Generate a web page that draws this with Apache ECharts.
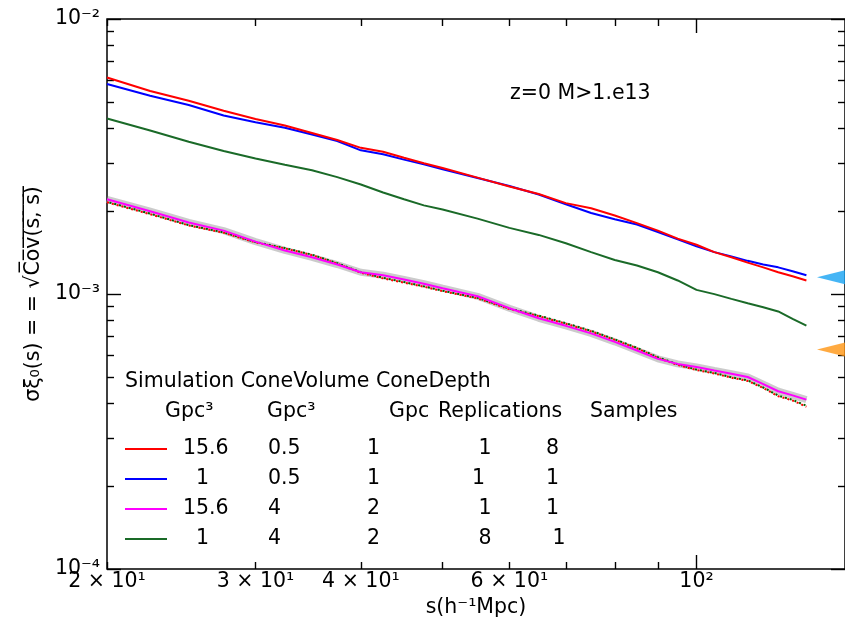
<!DOCTYPE html>
<html><head><meta charset="utf-8">
<script src="https://cdn.jsdelivr.net/npm/echarts@6/dist/echarts.min.js"></script>
<style>html,body{margin:0;padding:0;background:#fff}#c{width:845px;height:630px}</style>
</head><body><div id="c"></div>
<script>
// ---- data ----
const sVals = [20,22.5,25,27.5,30,32.5,35,37.5,40,42.5,45,47.5,50,55,60,65,70,75,80,85,90,95,100,105,110,115,120,125,130,135];
const redVals = [6.13e-3,5.47e-3,5.04e-3,4.64e-3,4.33e-3,4.10e-3,3.85e-3,3.63e-3,3.40e-3,3.29e-3,3.13e-3,2.99e-3,2.87e-3,2.65e-3,2.46e-3,2.31e-3,2.14e-3,2.05e-3,1.93e-3,1.81e-3,1.70e-3,1.59e-3,1.51e-3,1.42e-3,1.36e-3,1.30e-3,1.25e-3,1.20e-3,1.16e-3,1.12e-3];
const blueVals = [5.80e-3,5.26e-3,4.87e-3,4.46e-3,4.21e-3,4.02e-3,3.80e-3,3.60e-3,3.33e-3,3.22e-3,3.08e-3,2.96e-3,2.84e-3,2.64e-3,2.47e-3,2.30e-3,2.12e-3,1.97e-3,1.87e-3,1.79e-3,1.68e-3,1.58e-3,1.49e-3,1.42e-3,1.37e-3,1.32e-3,1.28e-3,1.25e-3,1.21e-3,1.17e-3];
const greenVals = [4.35e-3,3.93e-3,3.58e-3,3.31e-3,3.11e-3,2.95e-3,2.82e-3,2.66e-3,2.50e-3,2.34e-3,2.21e-3,2.10e-3,2.03e-3,1.88e-3,1.74e-3,1.64e-3,1.53e-3,1.42e-3,1.33e-3,1.27e-3,1.20e-3,1.12e-3,1.035e-3,9.99e-4,9.60e-4,9.25e-4,8.95e-4,8.64e-4,8.12e-4,7.67e-4];
const magentaVals = [2.21e-3,2.00e-3,1.82e-3,1.70e-3,1.55e-3,1.44e-3,1.36e-3,1.28e-3,1.20e-3,1.17e-3,1.13e-3,1.09e-3,1.05e-3,9.81e-4,8.88e-4,8.16e-4,7.66e-4,7.19e-4,6.70e-4,6.23e-4,5.81e-4,5.57e-4,5.43e-4,5.27e-4,5.13e-4,4.99e-4,4.70e-4,4.43e-4,4.28e-4,4.13e-4];
const dottedRedVals = [2.155e-3,1.95e-3,1.775e-3,1.67e-3,1.54e-3,1.465e-3,1.385e-3,1.29e-3,1.195e-3,1.14e-3,1.10e-3,1.063e-3,1.024e-3,9.64e-4,8.81e-4,8.30e-4,7.79e-4,7.31e-4,6.81e-4,6.34e-4,5.86e-4,5.52e-4,5.29e-4,5.14e-4,4.96e-4,4.83e-4,4.55e-4,4.25e-4,4.10e-4,3.89e-4];
const dottedGreenVals = [2.165e-3,1.96e-3,1.78e-3,1.675e-3,1.545e-3,1.47e-3,1.39e-3,1.295e-3,1.20e-3,1.145e-3,1.105e-3,1.066e-3,1.028e-3,9.68e-4,8.85e-4,8.35e-4,7.83e-4,7.35e-4,6.84e-4,6.37e-4,5.89e-4,5.55e-4,5.31e-4,5.16e-4,4.98e-4,4.85e-4,4.57e-4,4.27e-4,4.12e-4,3.92e-4];
const triangleS = [150, 150];
const triangleVals = [1.15e-3, 6.28e-4];
const triangleColors = ['#16a3f2', '#ff9512'];

const xLabelVals = [20, 30, 40, 60, 100];
const xLabelTexts = ['2 × 10¹', '3 × 10¹', '4 × 10¹', '6 × 10¹', '10²'];
const xMajorTicks = [100];
const xMinorTicks = [20, 30, 40, 50, 60, 70, 80, 90];
const yLabelVals = [1e-4, 1e-3, 1e-2];
const yLabelTexts = ['10⁻⁴', '10⁻³', '10⁻²'];
const yMajorTicks = [1e-4, 1e-3, 1e-2];
const yMinorTicks = [2e-4,3e-4,4e-4,5e-4,6e-4,7e-4,8e-4,9e-4,2e-3,3e-3,4e-3,5e-3,6e-3,7e-3,8e-3,9e-3];

const legendNames = ['red', 'blue', 'magenta', 'green'];
const legendCols = {
  red:     ['15.6', '0.5', '1', ' 1', '8'],
  blue:    ['  1',  '0.5', '1', '1',  '1'],
  magenta: ['15.6', '4',   '2', ' 1', '1'],
  green:   ['  1',  '4',   '2', ' 8', ' 1']
};
const headerLine1 = 'Simulation ConeVolume ConeDepth';
const headerLine2 = [['Gpc³', 165], ['Gpc³', 267], ['Gpc', 389], ['Replications', 438], ['Samples', 590]];
const annotation = 'z=0 M>1.e13';

// ---- chart ----
const FF = 'DejaVu Sans';
const FS = 20.5;
function pairs(ys) { return sVals.map((s, i) => [s, ys[i]]); }
function nearest(arr, v) {
  let b = 0, bd = Infinity;
  arr.forEach((a, i) => { const d = Math.abs(Math.log10(a) - Math.log10(v)); if (d < bd) { bd = d; b = i; } });
  return b;
}
const tickStyle = { color: '#000', width: 1.4 };
function xAx(pos, ticks, len, labels) {
  return {
    type: 'log', logBase: 10, min: 20, max: 150, position: pos, gridIndex: 0,
    splitLine: { show: false }, axisLine: { show: false },
    axisTick: { show: true, inside: true, length: len, customValues: ticks, lineStyle: tickStyle },
    axisLabel: labels ? {
      show: true, customValues: xLabelVals, margin: 2, color: '#000', fontFamily: FF, fontSize: FS,
      showMinLabel: true, showMaxLabel: true, hideOverlap: false,
      formatter: v => xLabelTexts[nearest(xLabelVals, v)]
    } : { show: false },
    name: labels ? 's(h⁻¹Mpc)' : '', nameLocation: 'middle', nameGap: 20,
    nameTextStyle: { color: '#000', fontFamily: FF, fontSize: FS }
  };
}
function yAx(pos, ticks, len, labels) {
  return {
    type: 'log', logBase: 10, min: 1e-4, max: 1e-2, position: pos, gridIndex: 0,
    splitLine: { show: false }, axisLine: { show: false },
    axisTick: { show: true, inside: true, length: len, customValues: ticks, lineStyle: tickStyle },
    axisLabel: labels ? {
      show: true, customValues: yLabelVals, margin: 7, color: '#000', fontFamily: FF, fontSize: FS,
      showMinLabel: true, showMaxLabel: true, hideOverlap: false,
      formatter: v => yLabelTexts[nearest(yLabelVals, v)]
    } : { show: false },
    name: labels ? 'σξ₀(s) = = √C̅o̅v̅(̅s̅,̅ ̅s̅)̅' : '', nameLocation: 'middle', nameGap: 56, nameRotate: 90,
    nameTextStyle: { color: '#000', fontFamily: FF, fontSize: FS }
  };
}

function lineSeries(name, ys, color, width, type, z) {
  return {
    name: name, type: 'line', data: pairs(ys), xAxisIndex: 0, yAxisIndex: 0,
    showSymbol: false, symbol: 'none', smooth: false, z: z, silent: true,
    lineStyle: { color: color, width: width, type: type || 'solid', cap: 'butt' },
    itemStyle: { color: color }
  };
}

const txt = { fontSize: FS, fontFamily: FF, color: '#000' };
const richCols = {
  g: { width: 11 },
  a: Object.assign({ width: 85 }, txt),
  b: Object.assign({ width: 99 }, txt),
  c: Object.assign({ width: 105 }, txt),
  d: Object.assign({ width: 74 }, txt),
  e: Object.assign({}, txt)
};

const font = FS + 'px "DejaVu Sans"';
const graphics = [
  { type: 'text', left: 125, top: 371, style: { text: headerLine1, font: font, fill: '#000' } },
  { type: 'text', left: 510, top: 83, style: { text: annotation, font: font, fill: '#000' } }
].concat(headerLine2.map(h => ({ type: 'text', left: h[1], top: 401, style: { text: h[0], font: font, fill: '#000' } })));

const option = {
  animation: false,
  backgroundColor: '#fff',
  grid: { left: 107, top: 19, width: 739, height: 550, show: true, borderColor: '#000', borderWidth: 1.5, backgroundColor: 'transparent', containLabel: false },
  xAxis: [xAx('bottom', xMajorTicks, 14, true), xAx('bottom', xMinorTicks, 7, false), xAx('top', xMajorTicks, 14, false), xAx('top', xMinorTicks, 7, false)],
  yAxis: [yAx('left', yMajorTicks, 14, true), yAx('left', yMinorTicks, 7, false), yAx('right', yMajorTicks, 14, false), yAx('right', yMinorTicks, 7, false)],
  legend: {
    data: legendNames, orient: 'vertical', left: 125, top: 434, padding: 0,
    icon: 'rect', itemWidth: 42, itemHeight: 2, itemGap: 0, selectedMode: false,
    textStyle: { fontFamily: FF, fontSize: FS, color: '#000', lineHeight: 30, rich: richCols },
    formatter: n => { const c = legendCols[n]; return '{g| }{a|' + c[0] + '}{b|' + c[1] + '}{c|' + c[2] + '}{d|' + c[3] + '}{e|' + c[4] + '}'; }
  },
  graphic: graphics,
  series: [
    lineSeries('band', magentaVals, 'rgba(175,175,175,0.65)', 7, 'solid', 1),
    lineSeries('dred', dottedRedVals, '#ff0000', 2, [2, 3], 2),
    lineSeries('dgreen', dottedGreenVals, '#006400', 2, [2, 3], 2),
    lineSeries('magenta', magentaVals, '#ff00ff', 2, 'solid', 3),
    lineSeries('green', greenVals, '#1a6a28', 2, 'solid', 3),
    lineSeries('blue', blueVals, '#0000ff', 2, 'solid', 3),
    lineSeries('red', redVals, '#ff0000', 2, 'solid', 3),
    {
      type: 'scatter', xAxisIndex: 0, yAxisIndex: 0, silent: true, z: 5, clip: false,
      symbol: 'path://M0,5L20,0L20,10Z', symbolSize: [56, 28],
      data: triangleS.map((s, i) => ({ value: [s, triangleVals[i]], itemStyle: { color: triangleColors[i] } }))
    }
  ]
};
option.series[2].lineStyle.dashOffset = 2.5;
echarts.init(document.getElementById('c'), null, { renderer: 'canvas' }).setOption(option);
</script></body></html>
